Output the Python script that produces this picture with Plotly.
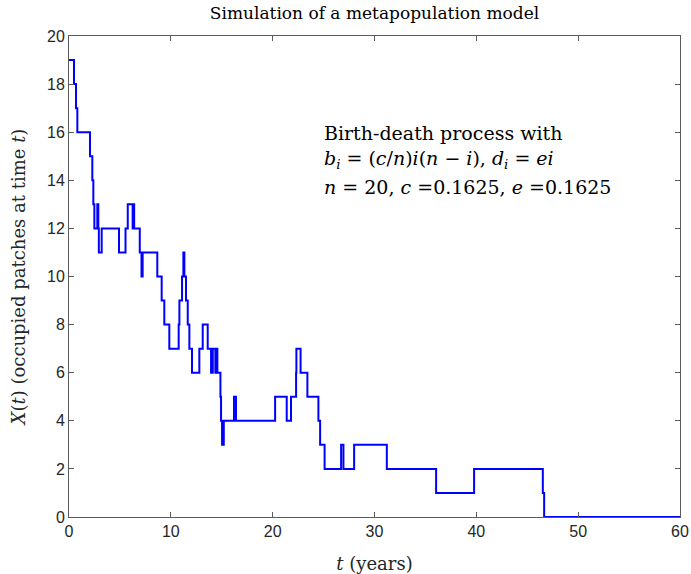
import plotly.graph_objects as go

# Jump times (years) of the simulated birth-death chain and the state entered at each jump
jump_times = [0.0, 0.49, 0.69, 0.82, 2.06, 2.29, 2.39, 2.49, 2.78, 2.88, 2.93, 3.21,
              4.91, 5.55, 5.77, 6.25, 6.3, 6.4, 6.95, 7.12, 7.23, 8.67, 9.1, 9.36,
              9.85, 10.77, 10.84, 11.1, 11.23, 11.33, 11.49, 11.66, 11.82, 12.08,
              12.8, 13.13, 13.62, 13.95, 14.12, 14.37, 14.42, 14.57, 14.87, 14.93,
              15.03, 15.2, 16.2, 16.4, 20.24, 21.38, 21.8, 22.3, 22.33, 22.74,
              23.41, 24.49, 24.66, 25.1, 26.72, 26.95, 28.0, 31.21, 36.05, 39.78,
              46.53, 46.66, 60.0]
occupied = [19, 18, 17, 16, 15, 14, 13, 12, 13, 12, 11, 12,
            11, 12, 13, 12, 13, 12, 11, 10, 11, 10, 9, 8,
            7, 8, 9, 10, 11, 10, 9, 8, 7, 6,
            7, 8, 7, 6, 7, 6, 7, 6, 5, 4,
            3, 4, 5, 4, 5, 4, 5, 6, 7, 6,
            5, 4, 3, 2, 3, 2, 3, 2, 1, 2,
            1, 0, 0]

x_ticks = [0, 10, 20, 30, 40, 50, 60]
y_ticks = [0, 2, 4, 6, 8, 10, 12, 14, 16, 18, 20]

title_text = "Simulation of a metapopulation model"
x_label = "<i>t</i> (years)"
y_label = "<i>X</i>(<i>t</i>) (occupied patches at time <i>t</i>)"
note_lines = [
    "Birth-death process with",
    "<i>b<sub>i</sub></i> = (<i>c</i>/<i>n</i>)<i>i</i>(<i>n</i> − <i>i</i>), <i>d<sub>i</sub></i> = <i>ei</i>",
    "<i>n</i> = 20, <i>c</i> =0.1625, <i>e</i> =0.1625",
]
note_rows = [15.98, 14.88, 13.73]  # vertical placement of each note line, in data units

serif = "DejaVu Serif, Liberation Serif, serif"
sans = "Liberation Sans, Arial, sans-serif"
axis_col = "#5a5a5a"

fig = go.Figure()
fig.add_trace(go.Scatter(
    x=jump_times, y=occupied, mode="lines",
    line=dict(color="#0000ff", width=2, shape="hv"),
    showlegend=False, hoverinfo="skip",
))

axis_common = dict(
    showline=True, linecolor=axis_col, linewidth=1, mirror="ticks",
    ticks="inside", ticklen=5, tickcolor=axis_col, tickwidth=1,
    showgrid=False, zeroline=False, automargin=False,
    tickfont=dict(family=sans, size=16, color="#262626"),
)

fig.update_xaxes(range=[0, 60], tickvals=x_ticks, ticktext=[str(v) for v in x_ticks],
                 title=dict(text=x_label, font=dict(family=serif, size=18, color="#262626"),
                            standoff=18),
                 **axis_common)
fig.update_yaxes(range=[0, 20], tickvals=y_ticks, ticktext=[str(v) for v in y_ticks],
                 title=dict(text=y_label, font=dict(family=serif, size=18, color="#262626"),
                            standoff=16),
                 **axis_common)

for line_text, row in zip(note_lines, note_rows):
    fig.add_annotation(
        xref="x", yref="y", x=24.85, y=row, xanchor="left", yanchor="middle",
        text=line_text, align="left", showarrow=False,
        font=dict(family=serif, size=19, color="#000000"),
    )

fig.update_layout(
    width=691, height=574,
    margin=dict(l=69, r=11, t=36, b=57, autoexpand=False),
    paper_bgcolor="white", plot_bgcolor="white",
    title=dict(text=title_text, x=0.542, xanchor="center", y=0.988, yanchor="top",
               font=dict(family=serif, size=17, color="#000000")),
)

fig.write_html("out.html")
